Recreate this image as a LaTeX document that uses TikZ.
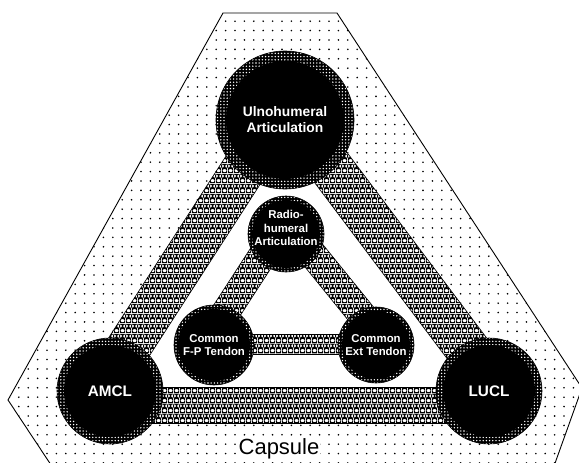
\documentclass[tikz,border=0pt]{standalone}
\usepackage{fontspec}
\setmainfont{Liberation Sans}
\usetikzlibrary{calc,patterns}
\pgfdeclarepatternformonly{capdots}{\pgfqpoint{-1pt}{-1pt}}{\pgfqpoint{1pt}{1pt}}{\pgfqpoint{9.4pt}{9.4pt}}{\pgfpathcircle{\pgfqpoint{0pt}{0pt}}{0.9pt}\pgfusepath{fill}}
\pgfdeclarepatternformonly{ringdots}{\pgfqpoint{-1.5pt}{-1.5pt}}{\pgfqpoint{1.5pt}{1.5pt}}{\pgfqpoint{3.2pt}{3.2pt}}{\pgfpathcircle{\pgfqpoint{0pt}{0pt}}{0.78pt}\pgfusepath{fill}}
\pgfdeclarepatternformonly{scales}{\pgfqpoint{0pt}{0pt}}{\pgfqpoint{6pt}{10pt}}{\pgfqpoint{6pt}{10pt}}{%
  \pgfseteorule
  \pgfpathrectangle{\pgfqpoint{0pt}{0pt}}{\pgfqpoint{6pt}{10pt}}%
  \pgfpathellipse{\pgfqpoint{3pt}{2.6pt}}{\pgfqpoint{2.4pt}{0pt}}{\pgfqpoint{0pt}{1.85pt}}%
  \pgfpathellipse{\pgfqpoint{0pt}{7.6pt}}{\pgfqpoint{2.4pt}{0pt}}{\pgfqpoint{0pt}{1.85pt}}%
  \pgfpathellipse{\pgfqpoint{6pt}{7.6pt}}{\pgfqpoint{2.4pt}{0pt}}{\pgfqpoint{0pt}{1.85pt}}%
  \pgfusepath{fill}}
\pgfdeclarelayer{capl}
\pgfdeclarelayer{bandl}
\pgfsetlayers{capl,bandl,main}
\newcommand\drawband[4]{%
  \path[band] ($(#1.center)!#3!90:(#2.center)$) -- ($(#2.center)!#3!-90:(#1.center)$)
    -- ($(#2.center)!#4!-90:(#1.center)$) -- ($(#1.center)!#4!90:(#2.center)$) -- cycle;}
\begin{document}
\begin{tikzpicture}[x=1pt,y=-1pt,
  joint/.style={circle, draw=black, line width=0.6pt, preaction={fill=black},
    pattern=ringdots, pattern color=white, inner sep=0pt, text=white, align=center},
  jcore/.style={path picture={\fill[black] (path picture bounding box.center) circle (#1);}},
  bigtext/.style={font=\bfseries\fontsize{13.8}{16}\selectfont},
  smalltext/.style={font=\bfseries\fontsize{11.4}{13.5}\selectfont},
  lig/.style={font=\bfseries\fontsize{15.3}{17}\selectfont},
  jtext/.style={text=white, align=center, inner sep=0pt},
  band/.style={preaction={fill=white}, pattern=scales, pattern color=black, draw=black, line width=0.6pt},
  capsule/.style={pattern=capdots, pattern color=black, draw=black, line width=0.9pt}]
\useasboundingbox (0,0) rectangle (579,463);
\node[joint, minimum size=138pt, jcore=59pt, bigtext] (ulno) at (285,120) {Ulnohumeral\\Articulation};
\node[joint, minimum size=76pt, jcore=34pt] (radio) at (286,234) {};
\node[jtext, smalltext] (radiotext) at ([yshift=6pt]radio.center) {Radio-\\humeral\\Articulation};
\node[joint, minimum size=80pt, jcore=36pt, smalltext] (fp) at (214,345) {Common\\F-P Tendon};
\node[joint, minimum size=76pt, jcore=34pt, smalltext] (ext) at (376,345) {Common\\Ext Tendon};
\node[joint, minimum size=106pt, jcore=46pt, lig] (amcl) at (110,391) {AMCL};
\node[joint, minimum size=106pt, jcore=46pt, lig] (lucl) at (489,391) {LUCL};
\begin{pgfonlayer}{capl}
  \begin{scope}
    \clip (0,0) rectangle (579,463);
    \path[capsule] (223,13) -- (337,13) -- (582,388) -- (549,480) -- (61,480) -- (8,400) -- cycle;
  \end{scope}
  \fill[white] (amcl.center) -- (ulno.center) -- (lucl.center) -- cycle;
\end{pgfonlayer}
\begin{pgfonlayer}{bandl}
  \drawband{amcl}{ulno}{30pt}{-14pt}
  \drawband{ulno}{lucl}{30pt}{-14pt}
  \drawband{lucl}{amcl}{32pt}{-4pt}
  \drawband{fp}{radio}{22pt}{-6pt}
  \drawband{radio}{ext}{22pt}{-6pt}
  \drawband{ext}{fp}{9pt}{-11pt}
\end{pgfonlayer}
\node[fill=white, inner sep=1pt, font=\fontsize{22}{24}\selectfont] (caplabel) at (279,449) {Capsule};
\end{tikzpicture}
\end{document}
